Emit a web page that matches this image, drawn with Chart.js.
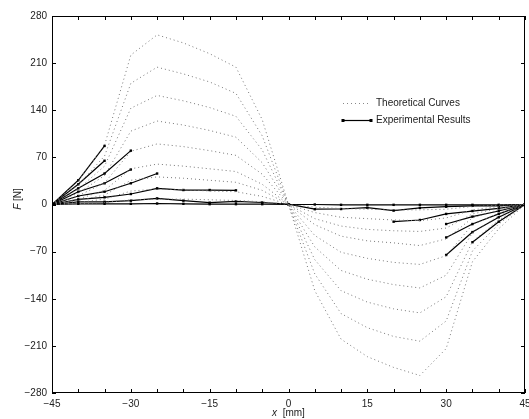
<!DOCTYPE html>
<html>
<head>
<meta charset="utf-8">
<script src="https://cdn.jsdelivr.net/npm/chart.js@4.4.0/dist/chart.umd.min.js"></script>
<style>
html, body { margin: 0; padding: 0; background: #fff; }
#wrap { width: 529px; height: 419px; position: relative; }
</style>
</head>
<body>
<div id="wrap"><canvas id="chart"></canvas></div>
<script>
// positions along x [mm]
var positions = [-45, -40, -35, -30, -25, -20, -15, -10, -5, 0, 5, 10, 15, 20, 25, 30, 35, 40, 45];
var xTicks = [-45, -30, -15, 0, 15, 30, 45];
var yTicks = [-280, -210, -140, -70, 0, 70, 140, 210, 280];

// theoretical curves [N]
var theo1 = [0, 35, 88, 222, 252, 240, 224, 204, 126, 0, -128, -200, -226, -242, -254, -214, -85, -36, 0];
var theo2 = [0, 29, 72, 180, 204, 194, 182, 165, 102, 0, -103, -162, -183, -196, -203, -173, -69, -29, 0];
var theo3 = [0, 23, 57, 143, 162, 154, 144, 131, 81, 0, -82, -128, -145, -155, -161, -137, -55, -23, 0];
var theo4 = [0, 17, 43, 109, 124, 118, 110, 100, 62, 0, -63, -98, -111, -119, -124, -105, -42, -17, 0];
var theo5 = [0, 13, 32, 79, 90, 86, 80, 73, 45, 0, -46, -71, -80, -86, -89, -76, -30, -13, 0];
var theo6 = [0, 8, 21, 53, 60, 57, 53, 49, 30, 0, -30, -47, -54, -57, -61, -51, -20, -8, 0];
var theo7 = [0, 6, 14, 36, 41, 39, 36, 33, 21, 0, -21, -32, -37, -39, -40, -35, -14, -6, 0];
var theo8 = [0, 3, 8, 20, 23, 22, 20, 19, 12, 0, -12, -19, -21, -23, -24, -20, -8, -3, 0];
var theo9 = [0, 1, 3, 7, 8, 8, 7, 6, 4, 0, -4, -6, -7, -8, -8, -7, -3, -1, 0];

// experimental results [N], null = not measured
var n = null;
var exp1 = [0, 36, 87, n, n, n, n, n, n, n, n, n, n, n, n, n, -56, -25.5, 0];
var exp2 = [0, 30, 65, n, n, n, n, n, n, n, n, n, n, n, n, -75, -41, -19, 0];
var exp3 = [0, 24, 46, 80, n, n, n, n, n, n, n, n, n, n, n, -49, -29, -14, 0];
var exp4 = [0, 19, 31.5, 52, n, n, n, n, n, n, n, n, n, n, n, -29, -18, -9.7, 0];
var exp5 = [0, 12.6, 19, 31.5, 46, n, n, n, n, n, n, n, n, -25.5, -23, -14, -9.7, -5.7, 0];
var exp6 = [0, 7.6, 10.7, 15.6, 24, 21.5, 21.5, 21, n, n, n, n, n, n, n, n, n, n, n];
var exp7 = [0, 4, 4, 5.7, 9, 5.7, 2.7, 4.5, 3, 0.5, -7, -6.7, -4.7, -9, -5, -3.3, -2, -2, 0];
var exp8 = [0, 1, 1, 1, 1.5, 1, 0.5, 0.5, 0.5, 0, 0, -0.5, -0.5, -0.5, -0.5, -0.5, -0.5, -0.5, 0];

var theoCurves = [theo1, theo2, theo3, theo4, theo5, theo6, theo7, theo8, theo9];
var expCurves = [exp1, exp2, exp3, exp4, exp5, exp6, exp7, exp8];

function pts(arr) {
    return positions.map(function (x, i) { return { x: x, y: arr[i] }; });
}

function fmt(v) {
    return v < 0 ? '\u2212' + Math.abs(v) : '' + v;
}

var datasets = [];
for (var i = 0; i < theoCurves.length; i++) {
    datasets.push({
        data: pts(theoCurves[i]),
        borderColor: '#777',
        borderWidth: 1,
        borderDash: [1, 3],
        pointRadius: 0,
        fill: false
    });
}
for (var j = 0; j < expCurves.length; j++) {
    datasets.push({
        data: pts(expCurves[j]),
        borderColor: '#000',
        borderWidth: 1.2,
        pointRadius: 1.7,
        pointStyle: 'rect',
        pointBackgroundColor: '#000',
        pointBorderColor: '#000',
        pointBorderWidth: 0,
        fill: false
    });
}

var FONT = '"Liberation Sans", Arial, Helvetica, sans-serif';

// box, inward ticks, axis titles and legend
var frame = {
    id: 'frame',
    afterDraw: function (chart) {
        var ctx = chart.ctx, a = chart.chartArea;
        var xs = chart.scales.x, ys = chart.scales.y;
        ctx.save();
        ctx.strokeStyle = '#000';
        ctx.lineWidth = 1;
        ctx.beginPath();
        for (var v = -45; v <= 45; v += 5) {
            var p = Math.round(xs.getPixelForValue(v)) + 0.5;
            ctx.moveTo(p, a.bottom); ctx.lineTo(p, a.bottom - 4);
            ctx.moveTo(p, a.top); ctx.lineTo(p, a.top + 4);
        }
        yTicks.forEach(function (t) {
            var q = Math.round(ys.getPixelForValue(t)) + 0.5;
            ctx.moveTo(a.left, q); ctx.lineTo(a.left + 4, q);
            ctx.moveTo(a.right, q); ctx.lineTo(a.right - 4, q);
        });
        ctx.stroke();
        ctx.strokeRect(Math.round(a.left) + 0.5, Math.round(a.top) + 0.5,
            Math.round(a.width) - 1, Math.round(a.height) - 1);

        // x title
        ctx.fillStyle = '#222';
        ctx.textBaseline = 'middle';
        ctx.font = 'italic 10px ' + FONT;
        var w1 = ctx.measureText('x').width;
        ctx.font = '10px ' + FONT;
        var w2 = ctx.measureText('  [mm]').width;
        var cx = (a.left + a.right) / 2 - (w1 + w2) / 2;
        ctx.textAlign = 'left';
        ctx.font = 'italic 10px ' + FONT;
        ctx.fillText('x', cx, 413);
        ctx.font = '10px ' + FONT;
        ctx.fillText('  [mm]', cx + w1, 413);

        // y title
        ctx.save();
        ctx.translate(18, 199);
        ctx.rotate(-Math.PI / 2);
        ctx.font = 'italic 10px ' + FONT;
        var f1 = ctx.measureText('F').width;
        ctx.font = '10px ' + FONT;
        var f2 = ctx.measureText(' [N]').width;
        var sx = -(f1 + f2) / 2;
        ctx.font = 'italic 10px ' + FONT;
        ctx.fillText('F', sx, 0);
        ctx.font = '10px ' + FONT;
        ctx.fillText(' [N]', sx + f1, 0);
        ctx.restore();

        // legend
        var lx = 343, ly1 = 103.5, ly2 = 120.5;
        ctx.strokeStyle = '#888';
        ctx.setLineDash([1, 3]);
        ctx.beginPath();
        ctx.moveTo(lx, ly1); ctx.lineTo(lx + 28, ly1);
        ctx.stroke();
        ctx.setLineDash([]);
        ctx.strokeStyle = '#000';
        ctx.lineWidth = 1.2;
        ctx.beginPath();
        ctx.moveTo(lx, ly2); ctx.lineTo(lx + 28, ly2);
        ctx.stroke();
        ctx.fillStyle = '#000';
        ctx.fillRect(lx - 1.5, ly2 - 1.5, 3, 3);
        ctx.fillRect(lx + 28 - 1.5, ly2 - 1.5, 3, 3);
        ctx.fillStyle = '#222';
        ctx.font = '10px ' + FONT;
        ctx.fillText('Theoretical Curves', lx + 33, ly1);
        ctx.fillText('Experimental Results', lx + 33, ly2);
        ctx.restore();
    }
};

var chart = new Chart(document.getElementById('chart'), {
    type: 'line',
    data: { datasets: datasets },
    options: {
        responsive: true,
        maintainAspectRatio: false,
        animation: false,
        layout: { padding: { top: 16, right: 1, left: 0, bottom: 0 } },
        plugins: {
            legend: { display: false },
            tooltip: { enabled: false }
        },
        scales: {
            x: {
                type: 'linear',
                min: -45,
                max: 45,
                grid: { display: false, drawTicks: false },
                border: { display: false },
                afterBuildTicks: function (s) {
                    s.ticks = xTicks.map(function (v) { return { value: v }; });
                },
                ticks: {
                    padding: 5,
                    color: '#222',
                    font: { family: FONT, size: 10 },
                    maxRotation: 0,
                    autoSkip: false,
                    callback: function (v) { return fmt(v); }
                },
                afterFit: function (s) {
                    s.height = 26;
                    s.paddingLeft = 0;
                    s.paddingRight = 0;
                }
            },
            y: {
                type: 'linear',
                min: -280,
                max: 280,
                grid: { display: false, drawTicks: false },
                border: { display: false },
                afterBuildTicks: function (s) {
                    s.ticks = yTicks.map(function (v) { return { value: v }; });
                },
                ticks: {
                    padding: 5,
                    color: '#222',
                    font: { family: FONT, size: 10 },
                    autoSkip: false,
                    callback: function (v) { return fmt(v); }
                },
                afterFit: function (s) {
                    s.width = 52;
                    s.paddingTop = 0;
                    s.paddingBottom = 0;
                }
            }
        }
    },
    plugins: [frame]
});
</script>
</body>
</html>
